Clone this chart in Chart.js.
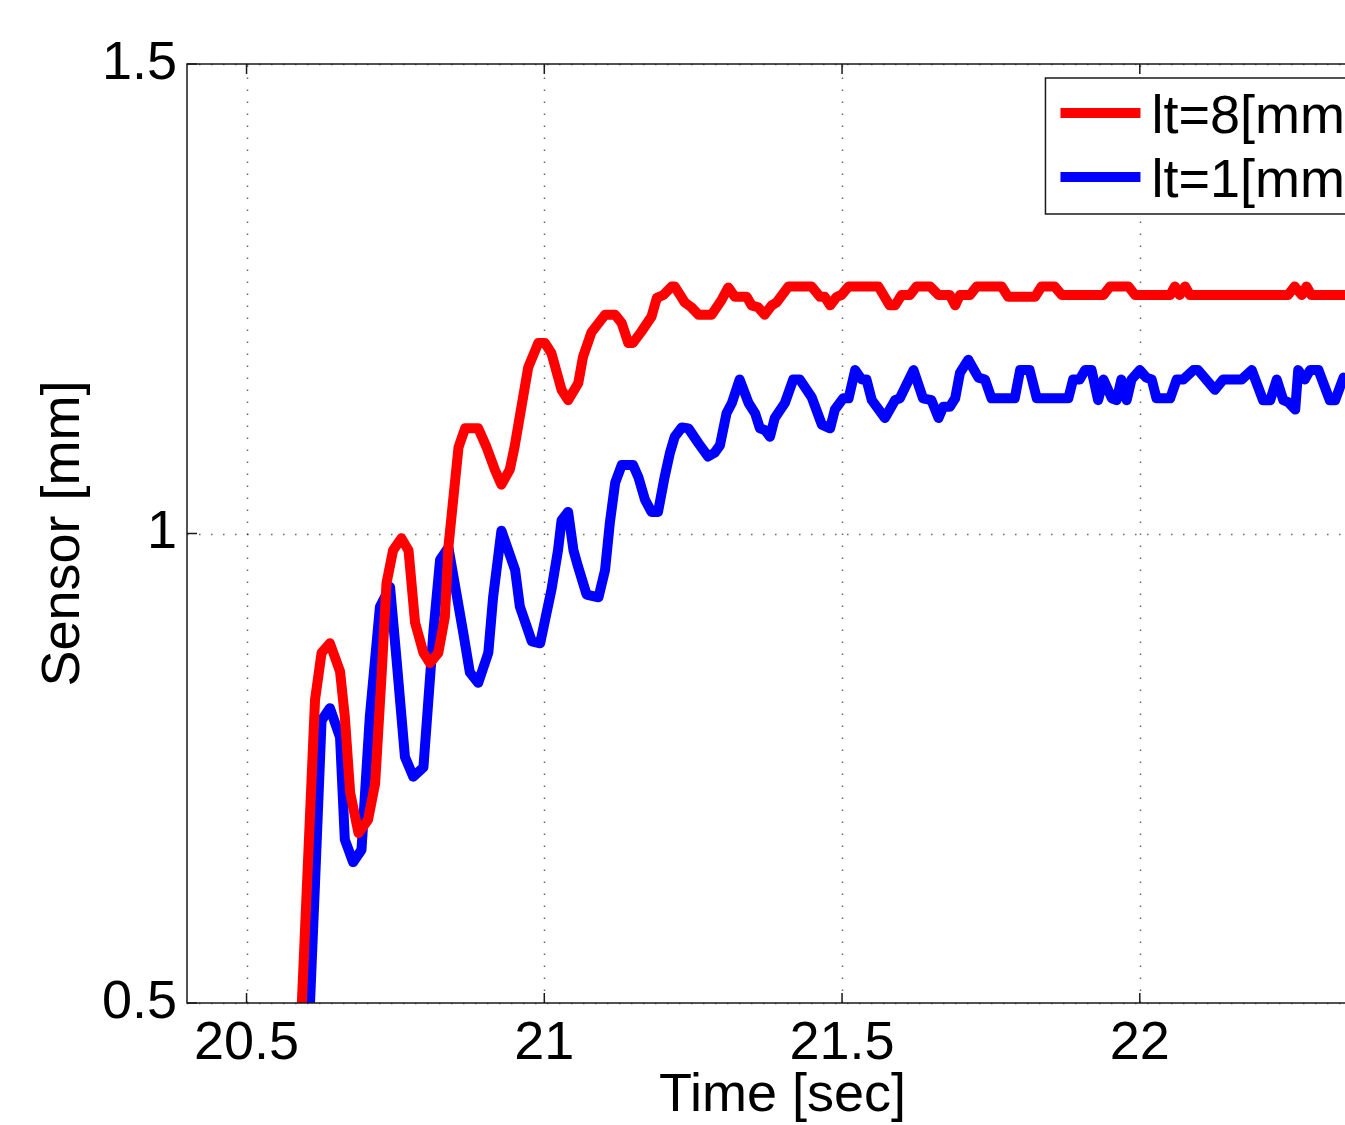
<!DOCTYPE html>
<html>
<head>
<meta charset="utf-8">
<title>Sensor response</title>
<script src="https://cdn.jsdelivr.net/npm/chart.js@4.4.1/dist/chart.umd.min.js"></script>
<style>
    html, body { margin: 0; padding: 0; background: #fff; overflow: hidden; }
    canvas { display: block; }
</style>
</head>
<body>
<canvas id="sensorChart" width="1420" height="1125"></canvas>
<script>
// Time [sec] and sensor [mm], lt=8[mm]
var redT = [
    20.586, 20.615, 20.626, 20.640, 20.657, 20.665, 20.674, 20.688, 20.704, 20.716,
    20.727, 20.735, 20.746, 20.760, 20.772, 20.783, 20.797, 20.808, 20.822, 20.833,
    20.839, 20.856, 20.867, 20.889, 20.903, 20.917, 20.928, 20.942, 20.950, 20.973,
    20.990, 21.001, 21.012, 21.029, 21.040, 21.057, 21.065, 21.079, 21.102, 21.119,
    21.130, 21.141, 21.149, 21.163, 21.180, 21.189, 21.200, 21.214, 21.219, 21.236,
    21.247, 21.259, 21.281, 21.298, 21.309, 21.320, 21.340, 21.348, 21.359, 21.370,
    21.382, 21.390, 21.410, 21.449, 21.463, 21.471, 21.480, 21.491, 21.499, 21.511,
    21.561, 21.580, 21.589, 21.600, 21.614, 21.625, 21.648, 21.662, 21.681, 21.690,
    21.698, 21.715, 21.726, 21.768, 21.779, 21.824, 21.835, 21.857, 21.869, 21.939,
    21.950, 21.981, 21.992, 22.051, 22.059, 22.067, 22.076, 22.084, 22.249, 22.260,
    22.272, 22.280, 22.288, 22.400
];
var redV = [
    0.400, 0.823, 0.873, 0.883, 0.853, 0.805, 0.724, 0.681, 0.695, 0.734,
    0.852, 0.947, 0.982, 0.995, 0.982, 0.905, 0.873, 0.862, 0.873, 0.911,
    0.986, 1.092, 1.112, 1.112, 1.092, 1.068, 1.052, 1.068, 1.092, 1.177,
    1.203, 1.203, 1.192, 1.153, 1.142, 1.160, 1.188, 1.214, 1.233, 1.233,
    1.224, 1.203, 1.203, 1.215, 1.231, 1.251, 1.254, 1.263, 1.263, 1.246,
    1.241, 1.233, 1.233, 1.249, 1.262, 1.252, 1.252, 1.243, 1.241, 1.233,
    1.243, 1.246, 1.263, 1.263, 1.252, 1.252, 1.243, 1.252, 1.254, 1.263,
    1.263, 1.243, 1.243, 1.254, 1.254, 1.263, 1.263, 1.254, 1.254, 1.243,
    1.254, 1.254, 1.263, 1.263, 1.252, 1.252, 1.263, 1.263, 1.254, 1.254,
    1.263, 1.263, 1.254, 1.254, 1.263, 1.254, 1.263, 1.254, 1.254, 1.263,
    1.254, 1.263, 1.254, 1.254
];

// lt=1[mm]
var blueT = [
    20.600, 20.615, 20.626, 20.640, 20.657, 20.665, 20.679, 20.693, 20.707, 20.724,
    20.741, 20.752, 20.766, 20.780, 20.797, 20.814, 20.825, 20.839, 20.864, 20.875,
    20.889, 20.906, 20.914, 20.928, 20.951, 20.959, 20.979, 20.993, 21.012, 21.023,
    21.029, 21.040, 21.049, 21.057, 21.071, 21.091, 21.102, 21.110, 21.119, 21.130,
    21.149, 21.158, 21.169, 21.180, 21.191, 21.202, 21.211, 21.219, 21.231, 21.242,
    21.259, 21.275, 21.286, 21.295, 21.306, 21.315, 21.328, 21.343, 21.354, 21.362,
    21.371, 21.379, 21.387, 21.404, 21.418, 21.429, 21.449, 21.466, 21.480, 21.488,
    21.502, 21.511, 21.522, 21.533, 21.541, 21.550, 21.572, 21.589, 21.597, 21.620,
    21.636, 21.650, 21.662, 21.670, 21.681, 21.690, 21.698, 21.712, 21.729, 21.740,
    21.751, 21.790, 21.799, 21.815, 21.827, 21.880, 21.888, 21.899, 21.908, 21.919,
    21.930, 21.939, 21.953, 21.961, 21.969, 21.978, 21.986, 22.000, 22.011, 22.020,
    22.028, 22.051, 22.062, 22.073, 22.090, 22.098, 22.126, 22.140, 22.171, 22.188,
    22.207, 22.219, 22.230, 22.241, 22.249, 22.261, 22.266, 22.277, 22.286, 22.300,
    22.319, 22.328, 22.342, 22.347, 22.400
];
var blueV = [
    0.400, 0.628, 0.801, 0.814, 0.783, 0.674, 0.650, 0.663, 0.805, 0.922,
    0.943, 0.865, 0.762, 0.741, 0.751, 0.897, 0.972, 0.985, 0.894, 0.852,
    0.841, 0.873, 0.932, 1.003, 0.961, 0.922, 0.885, 0.883, 0.940, 0.982,
    1.014, 1.023, 0.982, 0.964, 0.935, 0.932, 0.961, 1.011, 1.054, 1.073,
    1.073, 1.060, 1.036, 1.023, 1.023, 1.060, 1.086, 1.103, 1.113, 1.112,
    1.096, 1.082, 1.086, 1.094, 1.128, 1.139, 1.164, 1.139, 1.128, 1.112,
    1.110, 1.103, 1.123, 1.139, 1.164, 1.164, 1.145, 1.116, 1.112, 1.132,
    1.144, 1.144, 1.174, 1.164, 1.164, 1.142, 1.123, 1.142, 1.144, 1.174,
    1.144, 1.142, 1.123, 1.135, 1.135, 1.144, 1.171, 1.185, 1.166, 1.164,
    1.144, 1.144, 1.174, 1.174, 1.144, 1.144, 1.164, 1.164, 1.174, 1.174,
    1.142, 1.164, 1.144, 1.142, 1.164, 1.142, 1.164, 1.174, 1.166, 1.164,
    1.144, 1.144, 1.164, 1.164, 1.174, 1.174, 1.153, 1.164, 1.164, 1.174,
    1.142, 1.142, 1.164, 1.142, 1.140, 1.132, 1.174, 1.164, 1.174, 1.174,
    1.142, 1.142, 1.166, 1.164, 1.164
];

var seriesLabels = ['lt=8[mm]', 'lt=1[mm]'];
var xTicks = [20.5, 21, 21.5, 22];
var yTicks = [0.5, 1, 1.5];

var FONT = '"Liberation Sans", Arial, Helvetica, sans-serif';

function toPoints(ts, vs) {
    return ts.map(function (t, i) { return { x: t, y: vs[i] }; });
}

// Dotted grid below the data, box and inward ticks on top (matlab look)
var frame = {
    id: 'frame',
    beforeDatasetsDraw: function (chart) {
        var ctx = chart.ctx, a = chart.chartArea;
        var xs = chart.scales.x, ys = chart.scales.y;
        ctx.save();
        ctx.strokeStyle = 'rgba(0,0,0,0.6)';
        ctx.lineWidth = 1.5;
        ctx.setLineDash([1.5, 10.5]);
        xTicks.forEach(function (v) {
            var px = Math.round(xs.getPixelForValue(v)) + 0.5;
            ctx.beginPath(); ctx.moveTo(px, a.bottom); ctx.lineTo(px, a.top); ctx.stroke();
        });
        yTicks.forEach(function (v) {
            var py = Math.round(ys.getPixelForValue(v)) + 0.5;
            ctx.beginPath(); ctx.moveTo(a.left, py); ctx.lineTo(a.right, py); ctx.stroke();
        });
        ctx.restore();
    },
    afterDatasetsDraw: function (chart) {
        var ctx = chart.ctx, a = chart.chartArea;
        var xs = chart.scales.x, ys = chart.scales.y;
        var tl = 10;
        ctx.save();
        ctx.strokeStyle = '#1a1a1a';
        ctx.lineWidth = 1.5;
        ctx.strokeRect(a.left, a.top, a.right - a.left, a.bottom - a.top);
        ctx.beginPath();
        xTicks.forEach(function (v) {
            var px = xs.getPixelForValue(v);
            ctx.moveTo(px, a.bottom); ctx.lineTo(px, a.bottom - tl);
            ctx.moveTo(px, a.top); ctx.lineTo(px, a.top + tl);
        });
        yTicks.forEach(function (v) {
            var py = ys.getPixelForValue(v);
            ctx.moveTo(a.left, py); ctx.lineTo(a.left + tl, py);
            ctx.moveTo(a.right, py); ctx.lineTo(a.right - tl, py);
        });
        ctx.stroke();
        ctx.restore();
    }
};

// Legend box in the upper right corner of the axes
var legendBox = {
    id: 'legendBox',
    afterDatasetsDraw: function (chart) {
        var ctx = chart.ctx, a = chart.chartArea;
        ctx.save();
        ctx.font = '54px ' + FONT;
        var textW = 0;
        chart.data.datasets.forEach(function (ds) {
            textW = Math.max(textW, ctx.measureText(ds.label).width);
        });
        var w = 15 + 80 + 11 + textW + 8, h = 136;
        var right = a.right - 10, top = a.top + 14;
        var left = right - w;
        ctx.fillStyle = '#fff';
        ctx.fillRect(left, top, w, h);
        ctx.strokeStyle = '#1a1a1a';
        ctx.lineWidth = 1.5;
        ctx.strokeRect(left, top, w, h);
        chart.data.datasets.forEach(function (ds, i) {
            var y = top + 35 + i * 64;
            ctx.strokeStyle = ds.borderColor;
            ctx.lineWidth = 10;
            ctx.beginPath(); ctx.moveTo(left + 15, y); ctx.lineTo(left + 95, y); ctx.stroke();
            ctx.fillStyle = '#000';
            ctx.textBaseline = 'alphabetic';
            ctx.textAlign = 'left';
            ctx.fillText(ds.label, left + 106, y + 20);
        });
        ctx.restore();
    }
};

var ctx = document.getElementById('sensorChart').getContext('2d');
var sensorChart = new Chart(ctx, {
    type: 'line',
    data: {
        datasets: [{
            label: seriesLabels[0],
            data: toPoints(redT, redV),
            borderColor: '#ff0000',
            borderWidth: 10,
            pointRadius: 0,
            tension: 0,
            borderJoinStyle: 'round',
            clip: 0
        }, {
            label: seriesLabels[1],
            data: toPoints(blueT, blueV),
            borderColor: '#0000ff',
            borderWidth: 10,
            pointRadius: 0,
            tension: 0,
            borderJoinStyle: 'round',
            clip: 0
        }]
    },
    options: {
        responsive: false,
        animation: false,
        layout: { padding: { top: 64, right: 42, left: 0, bottom: 0 } },
        plugins: {
            legend: { display: false },
            tooltip: { enabled: false }
        },
        scales: {
            x: {
                type: 'linear',
                min: 20.4,
                max: 22.4,
                grid: { display: false, drawTicks: false },
                border: { display: false },
                afterBuildTicks: function (scale) {
                    scale.ticks = xTicks.map(function (v) { return { value: v }; });
                },
                afterFit: function (scale) { scale.height = 122; },
                ticks: {
                    color: '#000',
                    padding: 9,
                    maxRotation: 0,
                    autoSkip: false,
                    font: { family: FONT, size: 54 },
                    callback: function (v) { return String(v); }
                },
                title: {
                    display: true,
                    text: 'Time [sec]',
                    color: '#000',
                    padding: { top: 0, bottom: 2 },
                    font: { family: FONT, size: 54, lineHeight: 1 }
                }
            },
            y: {
                min: 0.5,
                max: 1.5,
                grid: { display: false, drawTicks: false },
                border: { display: false },
                afterBuildTicks: function (scale) {
                    scale.ticks = yTicks.map(function (v) { return { value: v }; });
                },
                afterFit: function (scale) { scale.width = 187; },
                ticks: {
                    color: '#000',
                    padding: 10,
                    autoSkip: false,
                    font: { family: FONT, size: 54 },
                    callback: function (v) { return String(v); }
                },
                title: {
                    display: true,
                    text: 'Sensor [mm]',
                    color: '#000',
                    padding: { top: 37, bottom: 0 },
                    font: { family: FONT, size: 54, lineHeight: 1 }
                }
            }
        }
    },
    plugins: [frame, legendBox]
});
</script>
</body>
</html>
